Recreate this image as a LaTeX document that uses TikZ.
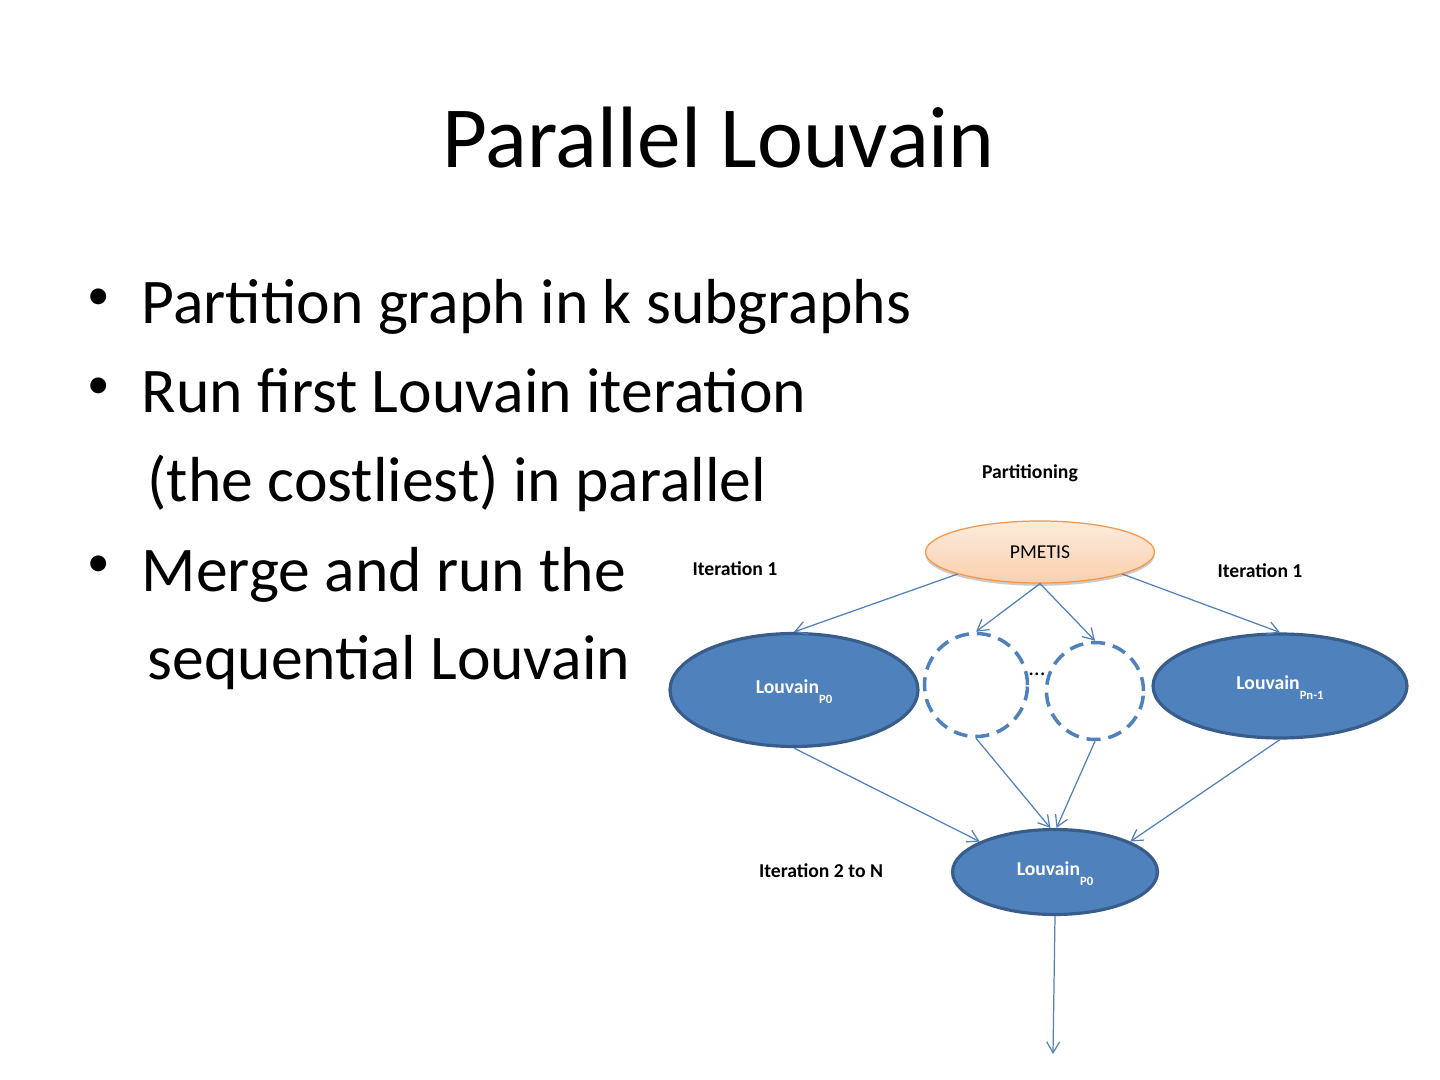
\documentclass[tikz,border=0pt]{standalone}
\usepackage{fontspec}
\setmainfont{Carlito}
\usetikzlibrary{shapes.geometric,arrows.meta,shadows}

\definecolor{accblue}{HTML}{4F81BD}
\definecolor{accdark}{HTML}{385D8A}
\definecolor{peach}{HTML}{FAD0AE}
\definecolor{peachlight}{HTML}{FDEBDD}
\definecolor{orangeline}{HTML}{F79646}

\newcommand{\procsub}[1]{\raisebox{-2.7pt}{\fontsize{3.6pt}{4pt}\selectfont #1}}

\begin{document}
\begin{tikzpicture}[x=1cm, y=-1cm,
    title/.style={anchor=base, inner sep=0, font=\fontsize{24.8pt}{30pt}\selectfont},
    item/.style={anchor=base west, inner sep=0, font=\fontsize{18.1pt}{22pt}\selectfont},
    dotmark/.style={anchor=base west, inner sep=0, font=\fontsize{12.8pt}{15pt}\selectfont},
    lbl/.style={inner sep=0, font=\fontsize{5.6pt}{7pt}\selectfont\bfseries},
    part/.style={ellipse, draw=orangeline, line width=0.35pt, top color=peachlight, bottom color=peach, inner sep=0,
      minimum width=2.29cm, minimum height=0.62cm, font=\fontsize{5.6pt}{7pt}\selectfont,
      drop shadow={shadow xshift=0pt, shadow yshift=-0.8pt, opacity=0.45, fill=black!45}},
    louvain/.style={ellipse, draw=accdark, line width=0.9pt, fill=accblue, text=white, inner sep=0,
      text height=2.2pt, text depth=0pt, font=\fontsize{5.6pt}{7pt}\selectfont\bfseries},
    ghost/.style={circle, draw=accblue, line width=1pt, dash pattern=on 1.4mm off 0.8mm, inner sep=0},
    arrow/.style={-{Straight Barb[length=1.1mm, width=1.3mm]}, draw=accblue, line width=0.35pt}
  ]
    \fill[white] (0,0) rectangle (14.4,10.8);
    \useasboundingbox (0,0) rectangle (14.4,10.8);

    % slide text
    \node[title] (head) at (7.185,1.68) {Parallel Louvain};
    \node[dotmark] (dot1) at (0.87,3.10) {•};
    \node[item] (line1) at (1.41,3.24) {Partition graph in k subgraphs};
    \node[dotmark] (dot2) at (0.87,3.99) {•};
    \node[item] (line2) at (1.41,4.13) {Run first Louvain iteration};
    \node[item] (line3) at (1.47,5.02) {(the costliest) in parallel};
    \node[dotmark] (dot3) at (0.87,5.77) {•};
    \node[item] (line4) at (1.41,5.91) {Merge and run the};
    \node[item] (line5) at (1.47,6.80) {sequential Louvain};

    % diagram
    \node[lbl] (partlbl) at (10.30,4.73) {Partitioning};
    \node[part] (pmetis) at (10.40,5.52) {PMETIS};
    \node[lbl] (iterleft) at (7.35,5.69) {Iteration 1};
    \node[lbl] (iterright) at (12.60,5.71) {Iteration 1};
    \node[louvain, minimum width=2.48cm, minimum height=1.13cm] (lv0) at (7.94,6.90) {Louvain\procsub{P0}};
    \node[ghost, minimum size=1.03cm] (ghosta) at (9.76,6.85) {};
    \node[ghost, minimum size=0.97cm] (ghostb) at (10.95,6.91) {};
    \node[inner sep=0, font=\fontsize{6.5pt}{8pt}\selectfont] (dots) at (10.37,6.74) {…};
    \node[louvain, minimum width=2.54cm, minimum height=1.04cm] (lvn) at (12.80,6.86) {Louvain\procsub{Pn-1}};
    \node[louvain, minimum width=2.05cm, minimum height=0.85cm] (lvm) at (10.55,8.72) {Louvain\procsub{P0}};
    \node[lbl] (iterlast) at (8.21,8.71) {Iteration 2 to N};
    \coordinate (out) at (10.53,10.54);

    \draw[arrow] (pmetis.195) -- (lv0.north);
    \draw[arrow] (pmetis.south) -- (ghosta.north);
    \draw[arrow] (pmetis.south) -- (ghostb.north);
    \draw[arrow] (pmetis.-15) -- (lvn.north);
    \draw[arrow] (lv0.south) -- (lvm.158);
    \draw[arrow] (ghosta.south) -- (lvm.96);
    \draw[arrow] (ghostb.south) -- (lvm.88);
    \draw[arrow] (lvn.south) -- (lvm.22);
    \draw[arrow] (lvm.south) -- (out);
\end{tikzpicture}
\end{document}
